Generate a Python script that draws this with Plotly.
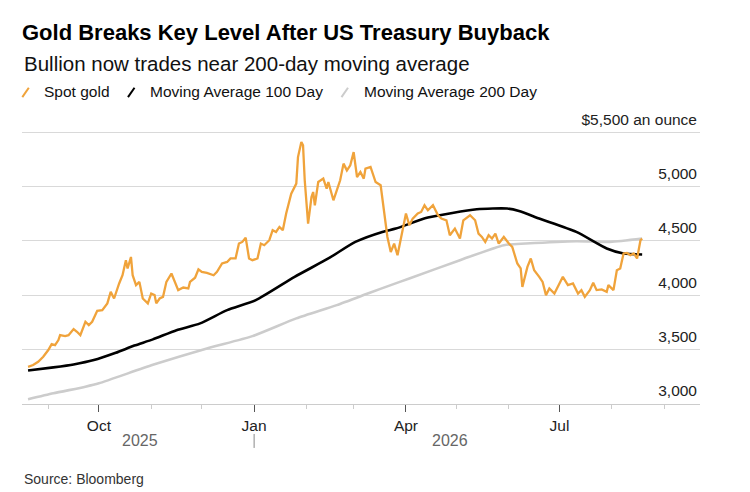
import plotly.graph_objects as go
import pandas as pd

# ---------------- data ----------------
gold_dates = [
    "2025-08-20", "2025-08-23", "2025-08-26", "2025-08-29", "2025-09-01", "2025-09-03", "2025-09-05",
    "2025-09-07", "2025-09-08", "2025-09-11", "2025-09-13", "2025-09-16", "2025-09-18", "2025-09-20",
    "2025-09-23", "2025-09-25", "2025-09-27", "2025-09-30", "2025-10-03", "2025-10-06", "2025-10-08",
    "2025-10-10", "2025-10-13", "2025-10-15", "2025-10-17", "2025-10-18", "2025-10-20", "2025-10-21",
    "2025-10-23", "2025-10-25", "2025-10-27", "2025-10-30", "2025-11-01", "2025-11-03", "2025-11-04",
    "2025-11-06", "2025-11-08", "2025-11-10", "2025-11-13", "2025-11-15", "2025-11-17", "2025-11-20",
    "2025-11-23", "2025-11-24", "2025-11-27", "2025-11-29", "2025-12-01", "2025-12-04", "2025-12-08",
    "2025-12-10", "2025-12-13", "2025-12-16", "2025-12-18", "2025-12-21", "2025-12-23", "2025-12-25",
    "2025-12-27", "2025-12-29", "2025-12-31", "2026-01-03", "2026-01-05", "2026-01-07", "2026-01-10",
    "2026-01-12", "2026-01-14", "2026-01-16", "2026-01-18", "2026-01-20", "2026-01-23", "2026-01-26",
    "2026-01-27", "2026-01-29", "2026-01-30", "2026-01-31", "2026-02-02", "2026-02-04", "2026-02-05",
    "2026-02-06", "2026-02-08", "2026-02-11", "2026-02-13", "2026-02-14", "2026-02-17", "2026-02-19",
    "2026-02-21", "2026-02-23", "2026-02-25", "2026-02-27", "2026-03-01", "2026-03-03", "2026-03-05",
    "2026-03-07", "2026-03-08", "2026-03-11", "2026-03-14", "2026-03-17", "2026-03-19", "2026-03-21",
    "2026-03-23", "2026-03-25", "2026-03-27", "2026-03-30", "2026-04-01", "2026-04-03", "2026-04-05",
    "2026-04-08", "2026-04-10", "2026-04-12", "2026-04-14", "2026-04-17", "2026-04-20", "2026-04-22",
    "2026-04-25", "2026-04-27", "2026-04-30", "2026-05-03", "2026-05-05", "2026-05-09", "2026-05-12",
    "2026-05-14", "2026-05-16", "2026-05-18", "2026-05-20", "2026-05-22", "2026-05-24", "2026-05-26",
    "2026-05-29", "2026-06-01", "2026-06-03", "2026-06-06", "2026-06-08", "2026-06-09", "2026-06-11",
    "2026-06-12", "2026-06-14", "2026-06-16", "2026-06-19", "2026-06-21", "2026-06-23", "2026-06-25",
    "2026-06-28", "2026-07-01", "2026-07-03", "2026-07-06", "2026-07-09", "2026-07-12", "2026-07-14",
    "2026-07-16", "2026-07-19", "2026-07-21", "2026-07-23", "2026-07-26", "2026-07-29", "2026-07-30",
    "2026-08-02", "2026-08-04", "2026-08-06", "2026-08-08", "2026-08-10", "2026-08-12", "2026-08-14",
    "2026-08-16", "2026-08-17", "2026-08-18", "2026-08-19",
]
gold_values = [
    3342, 3358, 3388, 3434, 3496, 3551, 3542,
    3588, 3633, 3624, 3633, 3689, 3664, 3633,
    3756, 3725, 3756, 3857, 3863, 3925, 4031,
    3970, 4108, 4184, 4322, 4246, 4352, 4184,
    4093, 4123, 3970, 3925, 4016, 4001, 3925,
    3970, 3985, 4123, 4200, 4123, 4047, 4071,
    4062, 4123, 4161, 4239, 4215, 4205, 4184,
    4215, 4292, 4306, 4338, 4338, 4475, 4490,
    4530, 4338, 4322, 4338, 4475, 4460, 4506,
    4598, 4582, 4628, 4598, 4751, 4934, 5026,
    5270, 5408, 5378, 5057, 4659, 4903, 4949,
    4827, 5041, 5072, 4980, 5041, 4873, 4965,
    5057, 5210, 5148, 5194, 5316, 5087, 5133,
    5072, 5164, 5179, 5041, 5011, 4751, 4536,
    4398, 4475, 4368, 4598, 4751, 4643, 4705,
    4751, 4766, 4827, 4781, 4827, 4735, 4705,
    4689, 4552, 4613, 4521, 4689, 4735, 4689,
    4567, 4536, 4490, 4552, 4521, 4567, 4475,
    4536, 4475, 4444, 4292, 4246, 4077, 4200,
    4261, 4338, 4230, 4169, 4123, 4001, 4062,
    4016, 4108, 4169, 4093, 4108, 4016, 4047,
    3985, 4047, 4114, 4047, 4053, 4031, 4093,
    4047, 4230, 4246, 4384, 4389, 4368, 4384,
    4338, 4430, 4506, 4521,
]

ma100_dates = [
    "2025-08-20", "2025-09-04", "2025-09-16", "2025-09-28", "2025-10-11", "2025-10-22", "2025-11-02",
    "2025-11-16", "2025-11-30", "2025-12-16", "2026-01-02", "2026-01-25", "2026-02-14", "2026-03-02",
    "2026-03-18", "2026-03-26", "2026-04-14", "2026-05-13", "2026-05-31", "2026-06-07", "2026-06-19",
    "2026-07-11", "2026-07-29", "2026-08-08", "2026-08-19",
]
ma100_values = [
    3308, 3337, 3364, 3404, 3471, 3537, 3594,
    3679, 3741, 3863, 3955, 4169, 4338, 4490,
    4582, 4613, 4714, 4790, 4797, 4775, 4705,
    4582, 4430, 4384, 4374,
]

ma200_dates = [
    "2025-08-20", "2025-09-04", "2025-09-23", "2025-10-01", "2025-11-02", "2025-12-04", "2025-12-31",
    "2026-01-26", "2026-02-19", "2026-03-11", "2026-03-23", "2026-04-03", "2026-05-03", "2026-05-29",
    "2026-06-11", "2026-07-11", "2026-07-31", "2026-08-19",
]
ma200_values = [
    3043, 3098, 3159, 3190, 3360, 3511, 3624,
    3787, 3909, 4025, 4093, 4154, 4322, 4460,
    4475, 4497, 4490, 4521,
]

y_tick_values = [3000, 3500, 4000, 4500, 5000, 5500]
y_tick_labels = ["3,000", "3,500", "4,000", "4,500", "5,000", "$5,500 an ounce"]

series_names = ["Spot gold", "Moving Average 100 Day", "Moving Average 200 Day"]
series_colors = ["#f0a33b", "#000000", "#cccccc"]

# ---------------- figure ----------------
FONT = "Liberation Sans, Arial, Helvetica, sans-serif"
W, H = 750, 492
Y_LO, Y_HI = 3000, 5510
L, R, B = 22, 50, 88
PX_PER_UNIT = 272.3 / 2500
T = H - B - (Y_HI - Y_LO) * PX_PER_UNIT
ph = H - T - B
pw = W - L - R


def py(pix):  # pixel row -> paper y
    return (H - B - pix) / ph


def px(pix):  # pixel column -> paper x
    return (pix - L) / pw


fig = go.Figure()
fig.add_trace(go.Scatter(x=ma200_dates, y=ma200_values, mode="lines", name=series_names[2],
                         line=dict(color=series_colors[2], width=2.6, shape="spline", smoothing=0.6)))
fig.add_trace(go.Scatter(x=ma100_dates, y=ma100_values, mode="lines", name=series_names[1],
                         line=dict(color=series_colors[1], width=2.6, shape="spline", smoothing=0.6)))
fig.add_trace(go.Scatter(x=gold_dates, y=gold_values, mode="lines", name=series_names[0],
                         line=dict(color=series_colors[0], width=2.3)))

# year labels centred on each year's span of data
dts = pd.to_datetime(gold_dates)
annotations = []
for yr in sorted(set(dts.year)):
    sub = dts[dts.year == yr]
    mid = sub.min() + (sub.max() - sub.min()) / 2
    annotations.append(dict(x=mid, xref="x", y=py(441), yref="paper", text=str(yr), showarrow=False,
                            xanchor="center", yanchor="middle",
                            font=dict(family=FONT, size=16, color="#666666")))
year_break = pd.Timestamp(f"{dts.year.max()}-01-01")

# subtitle
annotations.append(dict(x=0, xref="paper", y=py(63), yref="paper", xanchor="left", yanchor="middle",
                        text="Bullion now trades near 200-day moving average", showarrow=False,
                        font=dict(family=FONT, size=20.5, color="#111111")))
# legend labels
legend_text_x = [43, 149, 363]
legend_slash_x = [22.3, 128, 341.5]
shapes = []
for name, col, tx, sx in zip(series_names, series_colors, legend_text_x, legend_slash_x):
    annotations.append(dict(x=px(tx - 1), xref="paper", y=py(91.5), yref="paper", xanchor="left",
                            yanchor="middle", text=name, showarrow=False,
                            font=dict(family=FONT, size=15.5, color="#111111")))
    shapes.append(dict(type="line", xref="paper", yref="paper", x0=px(sx), y0=py(96.7),
                       x1=px(sx + 6.5), y1=py(87.3), line=dict(color=col, width=2)))
# source
annotations.append(dict(x=0, xref="paper", y=py(479), yref="paper", xanchor="left", yanchor="middle",
                        text="Source: Bloomberg", showarrow=False,
                        font=dict(family=FONT, size=14, color="#333333")))
# year separator
shapes.append(dict(type="line", xref="x", yref="paper", x0=year_break, x1=year_break,
                   y0=py(434), y1=py(448), line=dict(color="#888888", width=1)))

fig.update_layout(
    width=W, height=H,
    margin=dict(l=L, r=R, t=T, b=B, autoexpand=False),
    paper_bgcolor="white", plot_bgcolor="white",
    showlegend=False,
    title=dict(text="<b>Gold Breaks Key Level After US Treasury Buyback</b>",
               x=L / W, xref="container", xanchor="left",
               y=1 - 32 / H, yref="container", yanchor="middle",
               font=dict(family=FONT, size=22, color="#000000")),
    annotations=annotations,
    shapes=shapes,
    xaxis=dict(type="date", range=["2025-08-16 10:00", "2026-09-22 07:00"], automargin=False,
               tick0="2025-10-01", dtick="M3", tickformat="%b",
               ticks="outside", ticklen=7, tickcolor="#555555", tickwidth=1,
               showline=True, linecolor="#cccccc", linewidth=1,
               showgrid=False, zeroline=False,
               tickfont=dict(family=FONT, size=15.5, color="#222222"),
               minor=dict(tick0="2025-09-01", dtick="M1", ticks="outside", ticklen=4,
                          tickcolor="#cccccc", tickwidth=1, showgrid=False)),
    yaxis=dict(range=[Y_LO, Y_HI], side="right", tickvals=y_tick_values, ticktext=y_tick_labels,
               automargin=False,
               ticklabelposition="inside", ticklabelshift=-13, ticklabeloverflow="allow",
               ticks="", showgrid=True, gridcolor="#d9d9d9", gridwidth=1,
               zeroline=False, showline=False,
               tickfont=dict(family=FONT, size=15.5, color="#222222")),
)

fig.write_html("out.html", config={"displayModeBar": False},
               post_script="document.body.style.margin='0';document.body.style.padding='0';")
